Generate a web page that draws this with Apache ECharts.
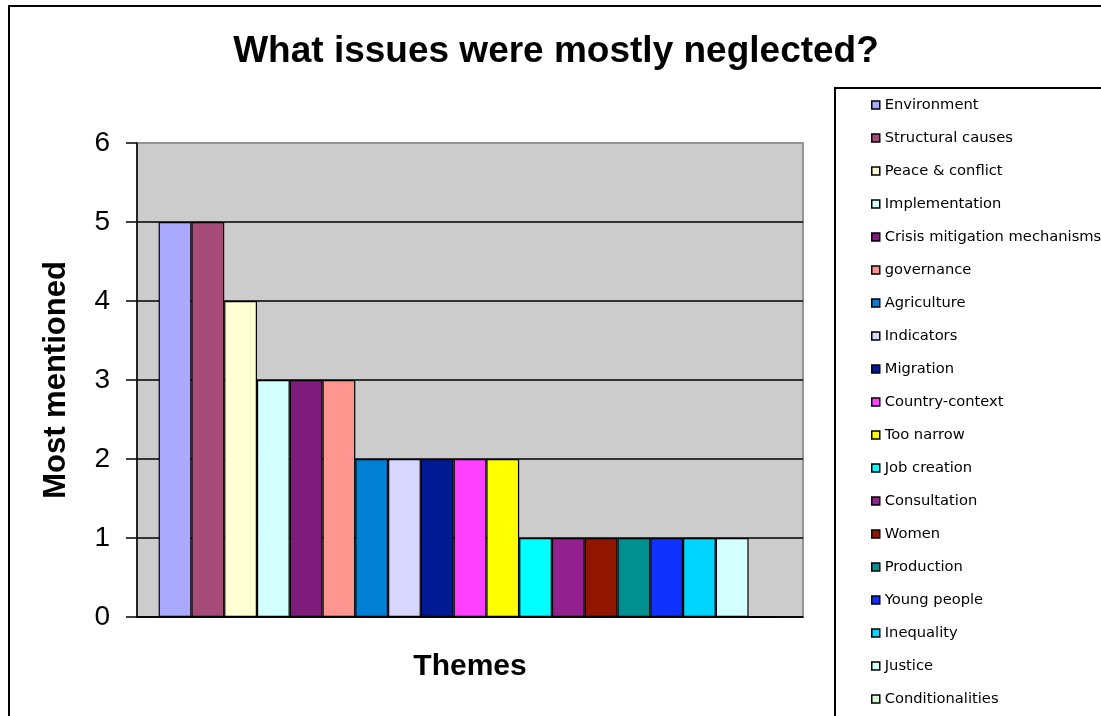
<!DOCTYPE html>
<html>
<head>
<meta charset="utf-8">
<title>What issues were mostly neglected?</title>
<script src="https://cdn.jsdelivr.net/npm/echarts@6/dist/echarts.min.js"></script>
<style>
  html, body { margin: 0; padding: 0; background: #fff; }
  #chart { width: 1101px; height: 716px; }
</style>
</head>
<body>
<div id="chart"></div>
<script>
// Themes named as neglected, in the order they appear in the legend
const themes = [
  'Environment', 'Structural causes', 'Peace & conflict', 'Implementation',
  'Crisis mitigation mechanisms', 'governance', 'Agriculture', 'Indicators',
  'Migration', 'Country-context', 'Too narrow', 'Job creation', 'Consultation',
  'Women', 'Production', 'Young people', 'Inequality', 'Justice', 'Conditionalities'
];

// Number of times each theme was mentioned
const mentions = [5, 5, 4, 3, 3, 3, 2, 2, 2, 2, 2, 1, 1, 1, 1, 1, 1, 1, 0];

// Fill colour for each theme's bar
const barColors = [
  '#A9A9FF', '#A64B7A', '#FFFFD4', '#D4FFFF', '#7E1B7B', '#FF958F',
  '#0080D5', '#D6D6FF', '#001A94', '#FF40FF', '#FFFF00', '#00FFFF',
  '#93208F', '#921500', '#009090', '#0F32FF', '#00D4FF', '#D4FFFF', '#D4FFD4'
];

// Value-axis range
const yMin = 0, yMax = 6, yStep = 1;

const chart = echarts.init(document.getElementById('chart'), null, { renderer: 'canvas' });

// One series per theme, all sharing a single category so the bars sit side by side
const series = themes.map((name, i) => ({
  type: 'bar',
  name: name,
  data: [mentions[i]],
  barGap: '0%',
  barCategoryGap: '6.5%',
  itemStyle: { color: barColors[i], borderColor: '#000', borderWidth: 1.2 },
  emphasis: { disabled: true },
  animation: false
}));

chart.setOption({
  animation: false,
  backgroundColor: '#fff',
  title: {
    text: 'What issues were mostly neglected?',
    left: 551,
    top: 28,
    textAlign: 'center',
    textStyle: {
      fontFamily: 'Liberation Sans, Arial, sans-serif',
      fontWeight: 'bold',
      fontSize: 37,
      color: '#000'
    }
  },
  legend: {
    orient: 'vertical',
    left: 871,
    top: 97,
    padding: 0,
    itemWidth: 8,
    itemHeight: 8,
    itemGap: 17,
    icon: 'rect',
    selectedMode: false,
    itemStyle: { borderWidth: 1.5, borderColor: '#000' },
    textStyle: {
      fontFamily: 'DejaVu Sans, sans-serif',
      fontSize: 14.7,
      lineHeight: 16,
      color: '#000'
    },
    data: themes
  },
  grid: {
    left: 137,
    right: 298,
    top: 143,
    bottom: 99,
    show: true,
    backgroundColor: '#CCCCCC',
    borderColor: '#959595',
    borderWidth: 2
  },
  xAxis: {
    type: 'category',
    data: [''],
    name: 'Themes',
    nameLocation: 'middle',
    nameGap: 35,
    nameTextStyle: {
      fontFamily: 'Liberation Sans, Arial, sans-serif',
      fontWeight: 'bold',
      fontSize: 30,
      color: '#000'
    },
    axisLine: { show: true, lineStyle: { color: '#000', width: 1.5 } },
    axisTick: { show: false },
    axisLabel: { show: false },
    splitLine: { show: false }
  },
  yAxis: {
    type: 'value',
    min: yMin,
    max: yMax,
    interval: yStep,
    name: 'Most mentioned',
    nameLocation: 'middle',
    nameGap: 65,
    nameTextStyle: {
      fontFamily: 'Liberation Sans, Arial, sans-serif',
      fontWeight: 'bold',
      fontSize: 31,
      color: '#000'
    },
    axisLine: { show: true, lineStyle: { color: '#000', width: 1.5 } },
    axisTick: { show: true, length: 11, lineStyle: { color: '#000', width: 1.5 } },
    axisLabel: {
      margin: 27,
      fontFamily: 'Liberation Sans, Arial, sans-serif',
      fontSize: 28,
      color: '#000'
    },
    splitLine: { show: true, showMaxLine: false, lineStyle: { color: '#000', width: 1.5 } }
  },
  graphic: [
    {
      // outer chart frame
      type: 'rect',
      silent: true,
      shape: { x: 9, y: 6, width: 1200, height: 800 },
      style: { fill: 'none', stroke: '#000', lineWidth: 2 }
    },
    {
      // legend frame
      type: 'rect',
      silent: true,
      shape: { x: 835, y: 88, width: 400, height: 700 },
      style: { fill: 'none', stroke: '#000', lineWidth: 2 }
    }
  ],
  series: series
});
</script>
</body>
</html>
